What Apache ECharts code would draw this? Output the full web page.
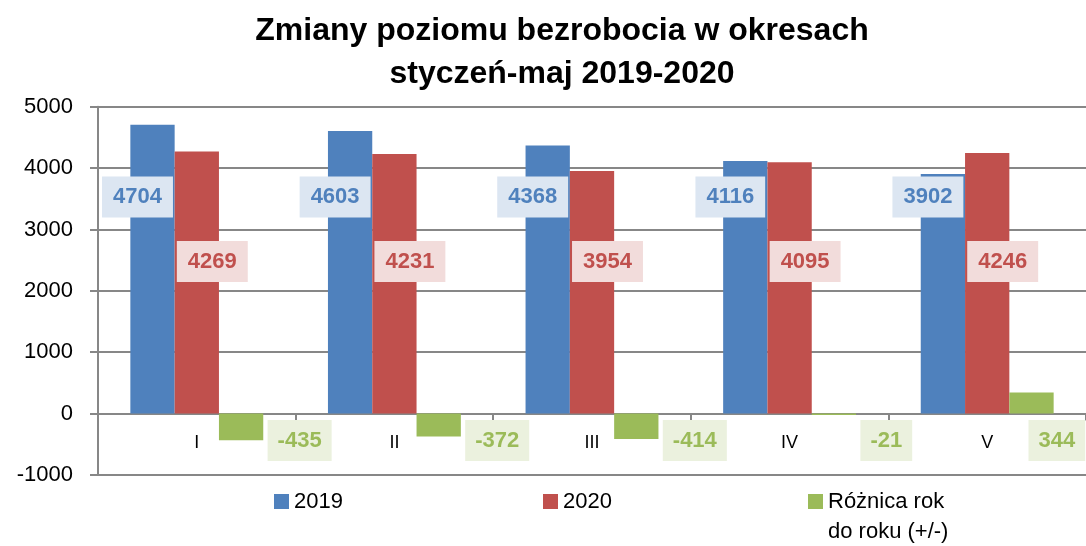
<!DOCTYPE html>
<html>
<head>
<meta charset="utf-8">
<script src="https://cdn.jsdelivr.net/npm/echarts@6/dist/echarts.min.js"></script>
<style>html,body{margin:0;padding:0;background:#fff}#c{width:1086px;height:546px}</style>
</head>
<body>
<div id="c"></div>
<script>
const categories = ['I', 'II', 'III', 'IV', 'V'];
const values2019 = [4704, 4603, 4368, 4116, 3902];
const values2020 = [4269, 4231, 3954, 4095, 4246];
const valuesDiff = [-435, -372, -414, -21, 344];
const seriesNames = ['2019', '2020', 'Różnica rok\ndo roku (+/-)'];
const yTicks = { min: -1000, max: 5000, interval: 1000 };

const FONT = 'Liberation Sans, Arial, sans-serif';
const COLORS = ['#4f81bd', '#c0504d', '#9bbb59'];
const LABEL_BG = ['#dce6f2', '#f2dcdb', '#ebf1de'];

function labelBase(i) {
  return {
    show: true,
    color: COLORS[i],
    backgroundColor: LABEL_BG[i],
    fontFamily: FONT,
    fontWeight: 'bold',
    fontSize: 22,
    lineHeight: 24,
    padding: [9, 11, 8, 11],
    distance: 0,
    verticalAlign: 'middle',
    align: 'center'
  };
}

const GRID = { left: 98, right: -12, top: 106.7, bottom: 71 };
const PLOT_H = 546 - GRID.top - GRID.bottom;
// distance between the bottom edge of the plot (at min) and the zero line
const zeroOffset = PLOT_H * (0 - yTicks.min) / (yTicks.max - yTicks.min);

const chart = echarts.init(document.getElementById('c'), null, { renderer: 'canvas' });
const legendText = { fontFamily: FONT, fontSize: 22, lineHeight: 22, color: '#000' };
const option = {
  animation: false,
  backgroundColor: '#ffffff',
  title: {
    text: 'Zmiany poziomu bezrobocia w okresach\nstyczeń-maj 2019-2020',
    left: 562,
    textAlign: 'center',
    top: 10,
    padding: 0,
    textStyle: { fontFamily: FONT, fontWeight: 'bold', fontSize: 32, lineHeight: 43, color: '#000' }
  },
  legend: [
    { data: [seriesNames[0]], left: 274, top: 490.5, padding: 0, itemWidth: 15, itemHeight: 15, itemGap: 0,
      icon: 'rect', textStyle: legendText },
    { data: [seriesNames[1]], left: 543, top: 490.5, padding: 0, itemWidth: 15, itemHeight: 15, itemGap: 0,
      icon: 'rect', textStyle: legendText },
    { data: [seriesNames[2]], left: 808, top: 456.5, padding: 0, itemWidth: 15, itemHeight: 15, itemGap: 0,
      icon: 'rect', formatter: n => '\n' + n,
      textStyle: { fontFamily: FONT, fontSize: 22, lineHeight: 30, color: '#000' } }
  ],
  grid: Object.assign({ containLabel: false }, GRID),
  xAxis: {
    type: 'category',
    data: categories,
    offset: -zeroOffset,
    axisLine: { onZero: false, lineStyle: { color: '#878787', width: 2 } },
    axisTick: { show: true, length: 7, lineStyle: { color: '#878787', width: 2 } },
    axisLabel: { fontFamily: FONT, fontSize: 18, color: '#000', margin: 20 },
    splitLine: { show: false }
  },
  yAxis: {
    type: 'value',
    min: yTicks.min, max: yTicks.max, interval: yTicks.interval,
    axisLine: { show: true, lineStyle: { color: '#878787', width: 2 } },
    axisTick: { show: true, length: 8, lineStyle: { color: '#878787', width: 2 } },
    axisLabel: { fontFamily: FONT, fontSize: 22, color: '#000', margin: 25, formatter: v => String(v) },
    splitLine: { show: true, lineStyle: { color: '#878787', width: 2 } }
  },
  series: [
    {
      name: seriesNames[0], type: 'bar', data: values2019, barWidth: 44.3, barGap: '0%',
      itemStyle: { color: COLORS[0] },
      label: Object.assign(labelBase(0), { position: 'insideBottom', offset: [-15, -216.5] })
    },
    {
      name: seriesNames[1], type: 'bar', data: values2020, barWidth: 44.3, barGap: '0%',
      itemStyle: { color: COLORS[1] },
      label: Object.assign(labelBase(1), { position: 'insideBottom', offset: [15.5, -152] })
    },
    {
      name: seriesNames[2], type: 'bar', barWidth: 44.3, barGap: '0%',
      itemStyle: { color: COLORS[2] },
      label: Object.assign(labelBase(2), { align: 'left', padding: [9, 10, 8, 10] }),
      data: valuesDiff.map((v, i) => ({
        value: v,
        label: {
          position: v < 0 ? 'insideTop' : 'insideBottom',
          offset: [i === valuesDiff.length - 1 ? -3 : 26.5, 27]
        }
      }))
    }
  ]
};
chart.setOption(option);
</script>
</body>
</html>
